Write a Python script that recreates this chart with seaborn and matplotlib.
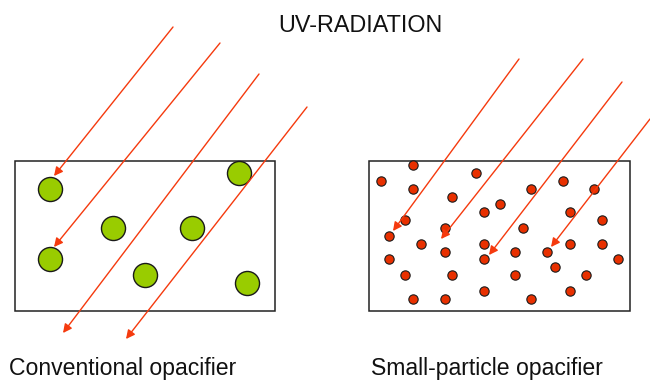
import matplotlib
matplotlib.use("Agg")
import matplotlib.pyplot as plt
from matplotlib.patches import Rectangle
import seaborn as sns
import pandas as pd

# ---- data (pixel-space diagram coordinates) ----
title_text = "UV-RADIATION"
panel_labels = ["Conventional opacifier", "Small-particle opacifier"]

# boxes: x0, y0, x1, y1
box_left = [15, 161, 275, 311]
box_right = [369, 161, 630, 311]

# large green particles
green_x = [50, 239, 113, 192, 50, 145, 247]
green_y = [189, 173, 228, 228, 259, 275, 283]

# small red particles
red_x = [413, 381, 476, 413, 452, 531, 563, 594, 500, 484, 570, 405, 602,
         389, 445, 523, 421, 445, 484, 515, 547, 570, 602, 389, 484, 618,
         555, 405, 452, 515, 586, 413, 445, 484, 531, 570]
red_y = [165, 181, 173, 189, 197, 189, 181, 189, 204, 212, 212, 220, 220,
         236, 228, 228, 244, 252, 244, 252, 252, 244, 244, 259, 259, 259,
         267, 275, 275, 275, 275, 299, 299, 291, 299, 291]

# UV rays: start (x, y) -> tip (x, y)
ray_left_start_x = [173, 220, 259, 307]
ray_left_start_y = [27, 43, 74, 107]
ray_left_end_x = [54, 54, 63, 126]
ray_left_end_y = [176, 247, 333, 339]

ray_right_start_x = [519, 583, 622, 650]
ray_right_start_y = [59, 59, 82, 119]
ray_right_end_x = [393, 441, 489, 551]
ray_right_end_y = [231, 239, 255, 247]

# ---- figure ----
sns.set_theme(style="white")
plt.rcParams["font.family"] = ["Liberation Sans", "DejaVu Sans"]

W, H = 650, 381
fig = plt.figure(figsize=(W / 100, H / 100), dpi=100)
ax = fig.add_axes([0, 0, 1, 1])
ax.set_xlim(0, W)
ax.set_ylim(H, 0)
ax.axis("off")

for b in (box_left, box_right):
    ax.add_patch(Rectangle((b[0], b[1]), b[2] - b[0], b[3] - b[1],
                           fill=False, edgecolor="#222222", lw=1.1, zorder=1))

green_df = pd.DataFrame({"x": green_x, "y": green_y})
red_df = pd.DataFrame({"x": red_x, "y": red_y})
sns.scatterplot(data=green_df, x="x", y="y", ax=ax, s=300, color="#99cc00",
                edgecolor="#1a1a1a", linewidth=1.0, zorder=2, legend=False)
sns.scatterplot(data=red_df, x="x", y="y", ax=ax, s=45, color="#e83000",
                edgecolor="#1a1a1a", linewidth=0.8, zorder=2, legend=False)
ax.set_xlim(0, W)
ax.set_ylim(H, 0)
ax.set_xlabel("")
ax.set_ylabel("")

ray_color = "#f53a0e"
for sx, sy, ex, ey in list(zip(ray_left_start_x, ray_left_start_y, ray_left_end_x, ray_left_end_y)) + \
        list(zip(ray_right_start_x, ray_right_start_y, ray_right_end_x, ray_right_end_y)):
    ax.annotate("", xy=(ex, ey), xytext=(sx, sy),
                arrowprops=dict(arrowstyle="-|>", color=ray_color, lw=1.0,
                                mutation_scale=13, shrinkA=0, shrinkB=0),
                zorder=3)

ax.text(360.5, 31.5, title_text, ha="center", va="baseline", fontsize=16.8, color="#111111")
ax.text(9, 375.5, panel_labels[0], ha="left", va="baseline", fontsize=16.6, color="#111111")
ax.text(371, 375.5, panel_labels[1], ha="left", va="baseline", fontsize=16.6, color="#111111")

fig.savefig("out.png", dpi=100)
